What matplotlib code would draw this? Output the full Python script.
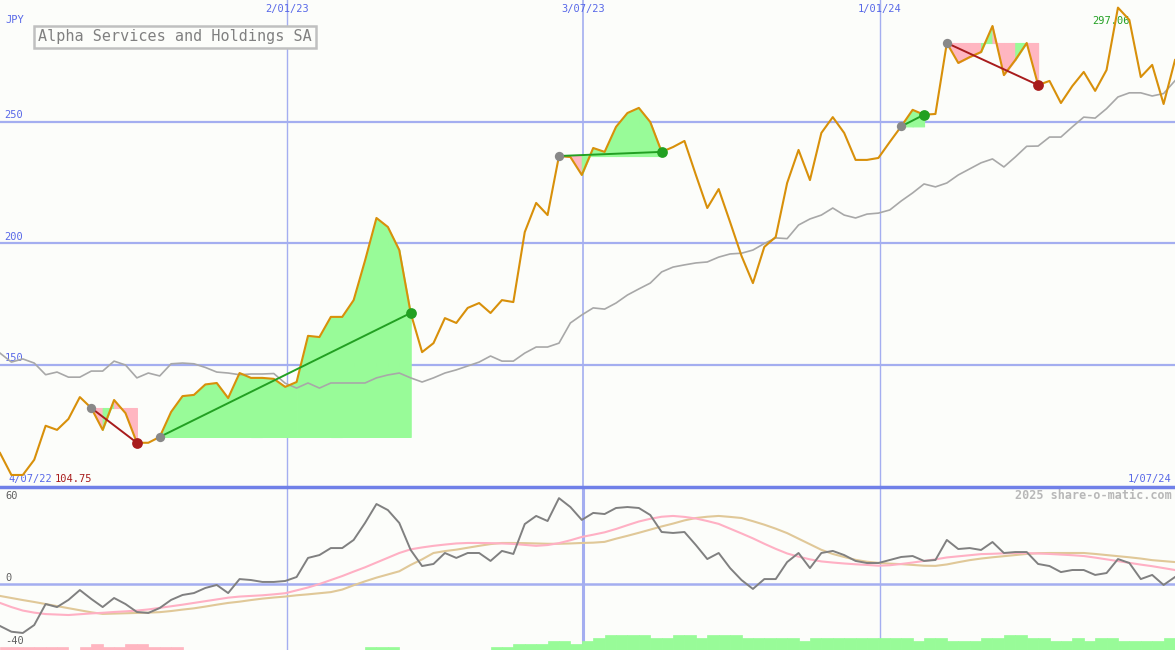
import numpy as np
import pandas as pd
import matplotlib
matplotlib.use("Agg")
import matplotlib.pyplot as plt

# weekly closes, JPY
price = [113.8, 104.75, 104.75, 111.0, 125.0, 123.3, 127.8, 136.8, 132.3, 123.3,
         135.6, 130.2, 118.0, 118.0, 120.4, 130.7, 137.2, 137.7, 142.0, 142.6,
         136.4, 146.7, 144.7, 144.7, 144.3, 141.0, 143.0, 162.0, 161.5, 169.8,
         169.8, 176.7, 193.0, 210.5, 206.8, 197.3, 171.4, 155.3, 159.0, 169.3,
         167.3, 173.5, 175.5, 171.4, 176.7, 175.9, 204.7, 216.7, 211.7, 236.0,
         235.6, 228.2, 239.3, 237.7, 248.0, 253.7, 255.8, 250.0, 237.7, 239.7,
         242.2, 228.2, 214.6, 222.4, 208.8, 194.9, 183.7, 198.6, 202.7, 224.9,
         238.5, 226.1, 245.5, 252.0, 245.5, 234.4, 234.4, 235.2, 241.8, 248.2,
         255.0, 253.0, 253.3, 282.5, 274.3, 276.7, 278.8, 289.5, 269.3, 275.5,
         282.5, 265.2, 266.9, 257.8, 264.8, 270.6, 262.8, 271.4, 297.06, 292.0,
         268.5, 273.5, 257.4, 275.5]

# moving average (grey)
ma = [154.9, 151.2, 152.5, 150.8, 146.0, 147.1, 145.0, 145.0, 147.5, 147.5,
      151.6, 150.0, 144.7, 146.7, 145.5, 150.5, 150.8, 150.5, 149.0, 147.1,
      146.7, 146.0, 146.3, 146.3, 146.5, 142.5, 140.5, 142.6, 140.5, 142.6,
      142.6, 142.6, 142.6, 144.7, 145.9, 146.7, 144.7, 143.0, 144.7, 146.7,
      148.0, 149.6, 151.2, 153.7, 151.6, 151.6, 154.9, 157.4, 157.4, 159.0,
      167.3, 170.6, 173.5, 173.0, 175.5, 178.8, 181.3, 183.7, 188.3, 190.3,
      191.2, 192.0, 192.4, 194.4, 195.7, 196.0, 197.3, 200.0, 202.3, 202.0,
      207.6, 210.1, 211.7, 214.6, 211.7, 210.5, 212.1, 212.5, 213.8, 217.5,
      220.8, 224.5, 223.3, 224.9, 228.2, 230.7, 233.2, 234.8, 231.5, 235.6,
      240.0, 240.1, 243.8, 243.8, 248.0, 252.0, 251.6, 255.5, 260.3, 262.0,
      262.0, 260.7, 261.7, 267.0]

# lower panel: oscillator + two smoothed lines
osc = [-26.4, -30.0, -30.8, -25.8, -12.6, -14.5, -10.0, -3.8, -9.4, -14.5,
       -8.8, -12.6, -17.6, -18.2, -15.1, -10.0, -6.9, -5.7, -2.5, -0.6,
       -5.7, 3.1, 2.5, 1.3, 1.3, 1.9, 4.4, 16.4, 18.2, 22.6,
       22.6, 27.7, 38.4, 50.3, 46.5, 38.4, 21.4, 11.3, 12.6, 19.5,
       16.4, 19.5, 19.5, 14.5, 20.8, 18.9, 37.7, 42.8, 39.6, 54.0,
       48.4, 40.3, 44.7, 44.0, 47.8, 48.4, 47.8, 43.4, 32.7, 32.1,
       32.7, 24.5, 15.7, 19.5, 10.0, 2.5, -3.1, 3.1, 3.1, 13.8,
       19.5, 10.0, 19.5, 20.8, 18.2, 14.5, 13.2, 13.2, 15.1, 17.0,
       17.6, 14.5, 15.1, 27.7, 22.0, 22.6, 21.4, 26.4, 19.5, 20.1,
       20.1, 12.6, 11.3, 7.5, 8.8, 8.8, 5.7, 6.9, 15.7, 13.2,
       3.1, 5.7, -0.6, 4.4]

osc_fast = [-11.9, -14.5, -16.7, -18.0, -18.9, -19.2, -19.5, -19.0, -18.5, -18.1,
            -17.6, -17.2, -16.7, -16.0, -15.0, -14.0, -13.0, -11.9, -10.8, -9.7,
            -8.6, -7.9, -7.5, -7.1, -6.5, -5.8, -4.0, -2.2, 0.0, 2.5,
            5.0, 7.8, 10.5, 13.5, 16.5, 19.5, 21.8, 23.0, 24.0, 24.8,
            25.5, 25.8, 25.8, 25.7, 25.5, 25.2, 24.6, 24.0, 24.5, 25.7,
            27.5, 29.6, 31.0, 32.5, 34.6, 37.0, 39.3, 41.0, 42.3, 42.8,
            42.2, 41.2, 39.6, 37.8, 34.8, 31.8, 28.7, 25.3, 22.1, 19.2,
            17.2, 15.5, 14.2, 13.5, 12.9, 12.4, 12.0, 11.5, 11.8, 12.6,
            13.5, 14.5, 15.5, 16.7, 17.4, 18.1, 18.8, 19.0, 19.3, 19.5,
            19.4, 19.2, 18.9, 18.5, 18.1, 17.6, 16.6, 15.5, 14.4, 13.3,
            12.2, 11.2, 10.0, 8.8]

osc_slow = [-7.5, -8.8, -10.1, -11.3, -12.6, -13.9, -15.2, -16.5, -17.8, -18.8,
            -18.6, -18.4, -18.2, -18.0, -17.7, -17.0, -16.1, -15.3, -14.2, -13.0,
            -11.9, -11.1, -10.1, -9.2, -8.5, -7.9, -7.1, -6.5, -5.8, -5.1,
            -3.5, -0.8, 1.7, 4.0, 6.0, 8.0, 12.0, 15.5, 19.5, 20.7,
            21.6, 22.8, 24.0, 25.1, 25.8, 25.8, 25.7, 25.5, 25.3, 25.3,
            25.5, 25.8, 26.0, 26.5, 28.5, 30.3, 32.2, 34.2, 36.2, 38.0,
            40.0, 41.5, 42.3, 42.8, 42.2, 41.5, 39.5, 37.3, 34.8, 32.0,
            28.5, 25.0, 21.5, 18.9, 17.0, 15.2, 14.0, 13.3, 12.8, 12.5,
            12.0, 11.5, 11.4, 12.3, 13.7, 15.0, 16.0, 16.8, 17.5, 18.2,
            18.9, 19.4, 19.5, 19.5, 19.5, 19.5, 18.9, 18.2, 17.5, 16.8,
            16.0, 15.0, 14.4, 13.8]

# strength bars at the bottom (sign = colour)
bars = [-1, -1, -1, -1, -1, -1, 0, -1, -2, -1,
        -1, -2, -2, -1, -1, -1, 0, 0, 0, 0,
        0, 0, 0, 0, 0, 0, 0, 0, 0, 0,
        0, 0, 1, 1, 1, 0, 0, 0, 0, 0,
        0, 0, 0, 1, 1, 2, 2, 2, 3, 3,
        2, 3, 4, 5, 5, 5, 5, 4, 4, 5,
        5, 4, 5, 5, 5, 4, 4, 4, 4, 4,
        3, 4, 4, 4, 4, 4, 4, 4, 4, 4,
        3, 4, 4, 3, 3, 3, 4, 4, 5, 5,
        4, 4, 3, 3, 4, 3, 4, 4, 3, 3,
        3, 3, 4, 4]

# trades: entry / exit week index
trade_in = [8, 14, 49, 79, 83]
trade_out = [12, 36, 58, 81, 91]

date_lines = ["2023-01-02", "2023-07-03", "2024-01-01"]
date_labels = ["2/01/23", "3/07/23", "1/01/24"]
price_ticks = [150, 200, 250]

dates = pd.date_range("2022-07-10", periods=len(price), freq="7D")
price = np.array(price)

BG = "#fcfdfa"
GRID = "#a4aef0"
BLUE = "#5868e8"
ORANGE = "#d8900a"
GREEN_FILL = "#98fb98"
PINK_FILL = "#ffb6c1"
MONO = "DejaVu Sans Mono"

fig = plt.figure(figsize=(11.75, 6.5), dpi=100, facecolor=BG)
ax = fig.add_axes([0, 163 / 650, 1, 487 / 650], facecolor=BG)
ax2 = fig.add_axes([0, 0, 1, 163 / 650], facecolor=BG)

for a in (ax, ax2):
    a.set_xlim(dates[0], dates[-1])
    a.set_xticks([])
    a.set_yticks([])
    for s in a.spines.values():
        s.set_visible(False)

ax.set_ylim(99.8, 300.2)
ax2.set_ylim(-41.5, 61)

# grid
for v in price_ticks:
    ax.axhline(v, color=GRID, lw=1.6, zorder=1)
    ax.text(0.004, v + 0.8, str(v), transform=ax.get_yaxis_transform(),
            color=BLUE, fontsize=7.5, family=MONO, va="bottom", ha="left")
for i, (d, lab) in enumerate(zip(date_lines, date_labels)):
    ax.axvline(pd.Timestamp(d), color=GRID, lw=1.2 if i == 1 else 1.0, zorder=1)
    ax2.axvline(pd.Timestamp(d), color=GRID, lw=2.2 if i == 1 else 1.0, zorder=1)
    ax.text(pd.Timestamp(d), 1 - 9 / 487, lab, transform=ax.get_xaxis_transform(),
            color=BLUE, fontsize=7.5, family=MONO, ha="center", va="center")
ax2.axhline(0, color=GRID, lw=1.8, zorder=1)
ax2.axhline(61, color="#7080e8", lw=2.5, zorder=5, clip_on=False)

# trade shading and markers
for s, e in zip(trade_in, trade_out):
    level = price[s]
    for k in range(s, e):
        col = GREEN_FILL if price[k + 1] >= level else PINK_FILL
        ax.fill_between(dates[k:k + 2], level, price[k:k + 2], facecolor=col,
                        edgecolor=col, lw=0.8, zorder=2)

ax.plot(dates, ma, color="#a8a8a8", lw=1.2, zorder=3)
ax.plot(dates, price, color=ORANGE, lw=1.5, zorder=4)

for s, e in zip(trade_in, trade_out):
    win = price[e] >= price[s]
    col = "#22a022" if win else "#a81c1c"
    ax.plot([dates[s], dates[e]], [price[s], price[e]], color=col, lw=1.4, zorder=5)
    ax.scatter([dates[s]], [price[s]], s=45, color="#888888", zorder=6, lw=0)
    ax.scatter([dates[e]], [price[e]], s=60, color=col, zorder=6, lw=0)

# labels in main panel
ax.text(5 / 1175, 1 - 20 / 487, "JPY", transform=ax.transAxes, color=BLUE,
        fontsize=7.5, family=MONO, va="center")
fig.text(38 / 1175, 1 - 37 / 650, "Alpha Services and Holdings SA", color="#808080",
         fontsize=10.9, family=MONO, va="center", ha="left",
         bbox=dict(boxstyle="square,pad=0.25", facecolor=BG, edgecolor="#c0c0c0", lw=1.8))
imin = int(np.argmin(price))
imax = int(np.argmax(price))
ax.text(8 / 1175, 8 / 487, "4/07/22", transform=ax.transAxes, color=BLUE,
        fontsize=7.5, family=MONO, va="center")
ax.text(55 / 1175, 8 / 487, f"{price[imin]:.2f}", transform=ax.transAxes,
        color="#a81c1c", fontsize=7.5, family=MONO, va="center")
ax.text(1 - 4 / 1175, 8 / 487, "1/07/24", transform=ax.transAxes, color=BLUE,
        fontsize=7.5, family=MONO, va="center", ha="right")
ax.text(dates[imax] - pd.Timedelta(days=4), price[imax] - 5.5, f"{price[imax]:.2f}",
        color="#22a022", fontsize=7.5, family=MONO, va="center", ha="center", zorder=3)

# lower panel
ax2.plot(dates, osc_slow, color="#e0c898", lw=1.5, zorder=3)
ax2.plot(dates, osc_fast, color="#ffb0c4", lw=1.5, zorder=3)
ax2.plot(dates, osc, color="#808080", lw=1.4, zorder=4)

ax3 = ax2.twinx()
ax3.set_ylim(0, 54)
ax3.set_xlim(dates[0], dates[-1])
ax3.set_yticks([])
for s in ax3.spines.values():
    s.set_visible(False)
bar_vals = np.array(bars)
bar_cols = [GREEN_FILL if v > 0 else PINK_FILL for v in bar_vals]
ax3.bar(dates, np.abs(bar_vals), width=7, align="edge", color=bar_cols,
        edgecolor=bar_cols, lw=0.5)

ax2.text(5 / 1175, 0.945, "60", transform=ax2.transAxes, color="#606060",
         fontsize=7.5, family=MONO, va="center")
ax2.text(5 / 1175, 0.44, "0", transform=ax2.transAxes, color="#606060",
         fontsize=7.5, family=MONO, va="center")
ax2.text(5 / 1175, 0.055, "-40", transform=ax2.transAxes, color="#606060",
         fontsize=7.5, family=MONO, va="center")
ax2.text(1 - 3 / 1175, 0.945, "2025 share-o-matic.com", transform=ax2.transAxes,
         color="#b8b8b8", fontsize=8.5, family=MONO, va="center", ha="right",
         fontweight="bold")

fig.savefig("out.png", dpi=100, facecolor=BG)
